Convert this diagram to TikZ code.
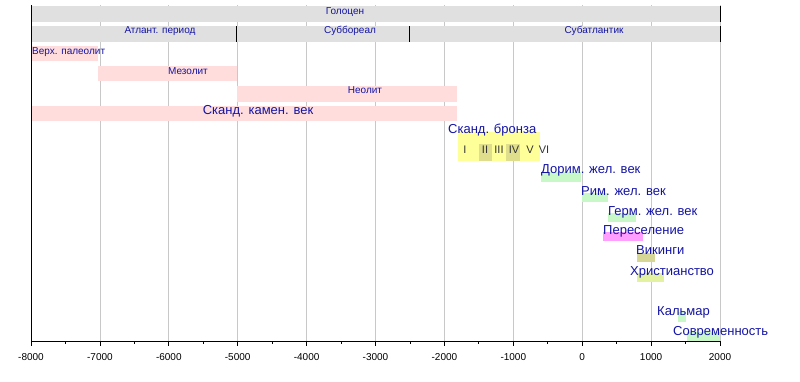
\documentclass[tikz,border=0pt]{standalone}
\usepackage{fontspec}
\setmainfont{Liberation Sans}
\definecolor{txt}{RGB}{20,20,165}
\definecolor{grayband}{RGB}{224,224,224}
\definecolor{stone}{RGB}{255,221,221}
\definecolor{bronze}{RGB}{255,255,153}
\definecolor{bronzedk}{RGB}{222,222,140}
\definecolor{iron}{RGB}{200,248,200}
\definecolor{migr}{RGB}{255,158,255}
\definecolor{viking}{RGB}{214,214,150}
\definecolor{christ}{RGB}{226,242,160}
\definecolor{gridc}{RGB}{200,200,200}
\begin{document}
\begin{tikzpicture}[x=1pt,y=-1pt,
  small/.style={font=\fontsize{10}{12}\selectfont, text=txt, inner sep=0pt, anchor=base},
  big/.style={font=\fontsize{13}{15}\selectfont, text=txt, inner sep=0pt, anchor=base west},
  roman/.style={font=\fontsize{11}{13}\selectfont, text=black!80, inner sep=0pt, anchor=base},
  ticklab/.style={font=\fontsize{10}{12}\selectfont, inner sep=0pt, anchor=base},
  marker/.style={black, line width=1pt}]
\useasboundingbox[fill=white] (0,0) rectangle (800,381);
% grid
\foreach \i in {1,...,10} \draw[gridc, line width=0.8pt] (31+68.9*\i,5) -- (31+68.9*\i,341);
% gray bands
\fill[grayband] (31,6) rectangle (720,22);
\fill[grayband] (31,26) rectangle (720,42);
\draw[marker] (720,6) -- (720,22);
\draw[marker] (720,26) -- (720,42);
\draw[marker] (236.5,26) -- (236.5,42);
\draw[marker] (409,26) -- (409,42);
% stone age
\fill[stone] (31,46) rectangle (98,61);
\fill[stone] (98,66) rectangle (236.5,81);
\fill[stone] (236.5,86) rectangle (457,102);
\fill[stone] (31,106) rectangle (457,121);
% bronze
\fill[bronze] (458,132) rectangle (540,161);
\fill[bronzedk] (479,144) rectangle (492,161);
\fill[bronzedk] (506,144) rectangle (520,161);
% iron and later
\fill[iron] (541,172) rectangle (581,182);
\fill[iron] (582,193) rectangle (608,202);
\fill[iron] (608,213) rectangle (636,222);
\fill[migr] (603,232) rectangle (643,241);
\fill[viking] (637,253) rectangle (655,262);
\fill[christ] (637,273) rectangle (664,282);
\fill[iron] (678,312) rectangle (686,322);
\fill[iron] (687,332) rectangle (720,341);
% axes
\draw[black, line width=1pt] (31,5) -- (31,341) -- (720,341);
\foreach \i/\lab in {0/-8000,1/-7000,2/-6000,3/-5000,4/-4000,5/-3000,6/-2000,7/-1000,8/0,9/1000,10/2000}{
  \draw[black, line width=0.8pt] (31+68.9*\i,341) -- (31+68.9*\i,346);
  \node[ticklab] (t\i) at (31+68.9*\i,360) {\lab};
}
\foreach \i in {0,...,9} \draw[black, line width=0.8pt] (65.45+68.9*\i,341) -- (65.45+68.9*\i,344);
% labels
\node[small] (hol) at (345,14) {Голоцен};
\node[small] (atl) at (160,33) {Атлант. период};
\node[small] (sbr) at (350,33) {Суббореал};
\node[small] (sat) at (594,33) {Субатлантик};
\node[small, anchor=base west] (pal) at (32,54) {Верх. палеолит};
\node[small] (mes) at (188,74) {Мезолит};
\node[small] (neo) at (365,93) {Неолит};
\node[big, anchor=base] (sst) at (258,114) {Сканд. камен. век};
\node[big] (sbz) at (448,133) {Сканд. бронза};
\node[roman] (r1) at (465,153) {I};
\node[roman] (r2) at (485,153) {II};
\node[roman] (r3) at (499,153) {III};
\node[roman] (r4) at (514,153) {IV};
\node[roman] (r5) at (530,153) {V};
\node[roman] (r6) at (544,153) {VI};
\node[big] (dor) at (541,173) {Дорим. жел. век};
\node[big] (rim) at (581,195) {Рим. жел. век};
\node[big] (ger) at (608,215) {Герм. жел. век};
\node[big] (per) at (603,234) {Переселение};
\node[big] (vik) at (636,254) {Викинги};
\node[big] (chr) at (630,275) {Христианство};
\node[big] (kal) at (657,315) {Кальмар};
\node[big] (sov) at (673,335) {Современность};
\end{tikzpicture}
\end{document}
